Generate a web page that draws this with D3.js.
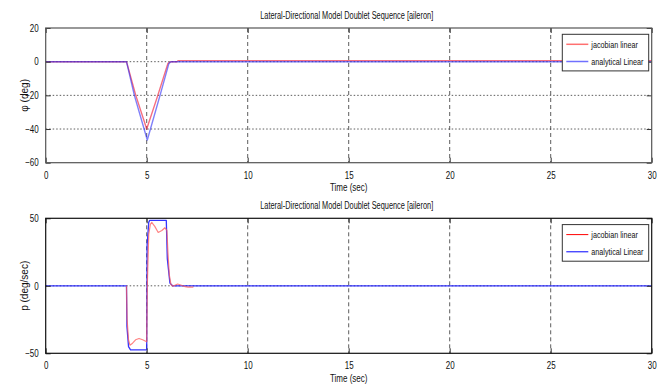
<!DOCTYPE html>
<html>
<head>
<meta charset="utf-8">
<script src="https://cdn.jsdelivr.net/npm/d3@7"></script>
<style>
  body { margin: 0; background: #fff; }
  text { font-family: "Liberation Sans", Arial, sans-serif; fill: #111; }
</style>
</head>
<body>
<div id="chart"></div>
<script>
// doublet response, jacobian vs analytical linear model

// roll angle phi (deg)
var phiJacT = [0, 4.0, 4.46, 5.0, 5.55, 6.05, 6.2, 6.5, 6.55, 30]
var phiJac = [0, 0, -20, -40, -20, -1, 0, 0, 0.6, 0.6]
var phiAnaT = [0, 4.0, 4.39, 5.03, 5.66, 6.1, 6.2, 30]
var phiAna = [0, 0, -20, -46.5, -20, -1, 0, 0]

// roll rate p (deg/sec)
var pJacT = [4.0, 4.03, 4.1, 4.17, 4.3, 4.45, 4.62, 4.8, 5.0, 5.03, 5.1, 5.18, 5.25, 5.4, 5.57, 5.75, 5.9, 6.0, 6.05, 6.12, 6.2, 6.3, 6.42, 6.53, 6.65, 6.78, 6.9, 7.05, 7.31]
var pJac = [0, -25, -40, -44, -42.5, -40, -39, -40, -41.5, 0, 38, 45.5, 47, 44, 39.5, 41, 43, 41, 25, 8, 1, -0.3, 0.6, 1.3, 0.8, 0, -0.6, -1, -1]
var pAnaT = [0, 4.0, 4.02, 4.1, 4.2, 5.0, 5.02, 5.1, 5.15, 5.97, 6.02, 6.15, 6.28, 30]
var pAna = [0, 0, -30, -45, -47.5, -47.5, 30, 47, 48.5, 48.5, 20, 2, 0, 0]

var xTicks = [0, 5, 10, 15, 20, 25, 30]
var phiTicks = [-60, -40, -20, 0, 20]
var pTicks = [-50, 0, 50]

var titleText = "Lateral-Directional Model Doublet Sequence [aileron]"
var legendNames = ["jacobian linear", "analytical Linear"]

var width = 661
var height = 385

var svg = d3.select("#chart")
    .append("svg")
    .attr("width", width)
    .attr("height", height)

// squeeze text a bit, the original font is narrow
function narrow(sel, k) {
    sel.each(function () {
        var w = this.getComputedTextLength()
        d3.select(this).attr("textLength", w * k).attr("lengthAdjust", "spacingAndGlyphs")
    })
}

function panel(opt) {
    var x = d3.scaleLinear().domain([0, 30]).range([45.7, 651.7])
    var y = d3.scaleLinear().domain(opt.domain).range([opt.bottom, opt.top])
    var g = svg.append("g")
    var x0 = x.range()[0], x1 = x.range()[1]

    // grid
    g.append("g").selectAll("line")
        .data(xTicks.slice(1, -1))
        .join("line")
        .attr("x1", d => x(d)).attr("x2", d => x(d))
        .attr("y1", opt.top).attr("y2", opt.bottom)
        .attr("stroke", "#333").attr("stroke-width", 0.8)
        .attr("stroke-dasharray", "4,3")
    g.append("g").selectAll("line")
        .data(opt.ticks.slice(1, -1))
        .join("line")
        .attr("x1", x0).attr("x2", x1)
        .attr("y1", d => y(d)).attr("y2", d => y(d))
        .attr("stroke", "#333").attr("stroke-width", 0.8)
        .attr("stroke-dasharray", "1.5,2")

    // data lines
    opt.series.forEach(function (s) {
        var pts = s.t.map((t, i) => [t, s.v[i]])
        g.append("path")
            .datum(pts)
            .attr("fill", "none")
            .attr("stroke", s.color)
            .attr("stroke-width", s.w)
            .attr("stroke-opacity", s.op)
            .attr("stroke-linejoin", "round")
            .attr("d", d3.line().x(d => x(d[0])).y(d => y(d[1])))
    })

    // box + inward ticks via axes
    g.append("g")
        .attr("transform", `translate(0,${opt.bottom})`)
        .call(d3.axisBottom(x).tickValues(xTicks).tickSize(-5).tickSizeOuter(0).tickPadding(9))
        .call(a => a.select(".domain").remove())
        .call(a => a.selectAll("text").attr("font-size", 10).attr("fill", "#111"))
    g.append("g")
        .attr("transform", `translate(0,${opt.top})`)
        .call(d3.axisTop(x).tickValues(xTicks).tickSize(-5).tickSizeOuter(0).tickFormat(""))
        .call(a => a.select(".domain").remove())
    g.append("g")
        .attr("transform", `translate(${x0},0)`)
        .call(d3.axisLeft(y).tickValues(opt.ticks).tickSize(-5).tickSizeOuter(0).tickPadding(7))
        .call(a => a.select(".domain").remove())
        .call(a => a.selectAll("text").attr("font-size", 10).attr("fill", "#111"))
    g.append("g")
        .attr("transform", `translate(${x1},0)`)
        .call(d3.axisRight(y).tickValues(opt.ticks).tickSize(-5).tickSizeOuter(0).tickFormat(""))
        .call(a => a.select(".domain").remove())
    g.selectAll(".tick line").attr("stroke", "#333")
    g.selectAll(".tick text").call(narrow, 0.8)

    g.append("rect")
        .attr("x", x0).attr("y", opt.top)
        .attr("width", x1 - x0).attr("height", opt.bottom - opt.top)
        .attr("fill", "none").attr("stroke", opt.boxColor).attr("stroke-width", 1.2)

    // labels
    g.append("text")
        .attr("x", (x0 + x1) / 2 - 2).attr("y", opt.top - 9)
        .attr("text-anchor", "middle").attr("font-size", 10)
        .text(titleText)
        .attr("textLength", 173).attr("lengthAdjust", "spacingAndGlyphs")
    g.append("text")
        .attr("x", (x0 + x1) / 2).attr("y", opt.bottom + 28.5)
        .attr("text-anchor", "middle").attr("font-size", 10)
        .text("Time (sec)")
        .call(narrow, 0.8)
    g.append("text")
        .attr("transform", `translate(28,${(opt.top + opt.bottom) / 2}) rotate(-90)`)
        .attr("text-anchor", "middle").attr("font-size", 10)
        .text(opt.ylabel)

    // legend
    var lx = 562.3, ly = opt.top + 6.3
    var lg = g.append("g")
    lg.append("rect")
        .attr("x", lx).attr("y", ly)
        .attr("width", 86.4).attr("height", 36.6)
        .attr("fill", "#fff").attr("stroke", "#333").attr("stroke-width", 1)
    lg.selectAll("g")
        .data(opt.legend)
        .join("g")
        .each(function (d, i) {
            var row = d3.select(this)
            var yy = ly + 10 + i * 17.2
            row.append("line")
                .attr("x1", lx + 4).attr("x2", lx + 26)
                .attr("y1", yy).attr("y2", yy)
                .attr("stroke", d.color).attr("stroke-width", d.w)
            row.append("text")
                .attr("x", lx + 29).attr("y", yy + 3.5)
                .attr("font-size", 9.5)
                .text(d.name)
                .call(narrow, 0.76)
        })
}

panel({
    top: 28, bottom: 162.7,
    domain: [-60, 20], ticks: phiTicks,
    ylabel: "\u03C6 (deg)",
    boxColor: "#555",
    series: [
        { t: phiJacT, v: phiJac, color: "#f0203a", w: 1.4, op: 0.65 },
        { t: phiAnaT, v: phiAna, color: "#2a2af5", w: 1.4, op: 0.6 }
    ],
    legend: [
        { name: legendNames[0], color: "#ff7070", w: 1.5 },
        { name: legendNames[1], color: "#7070ff", w: 1.5 }
    ]
})

panel({
    top: 218.3, bottom: 353.3,
    domain: [-50, 50], ticks: pTicks,
    ylabel: "p (deg/sec)",
    boxColor: "#111",
    series: [
        { t: pAnaT, v: pAna, color: "#2020ff", w: 1.3, op: 0.9 },
        { t: pJacT, v: pJac, color: "#ff5a5a", w: 1.2, op: 0.75 }
    ],
    legend: [
        { name: legendNames[0], color: "#ff0000", w: 1 },
        { name: legendNames[1], color: "#0000ff", w: 1 }
    ]
})
</script>
</body>
</html>
